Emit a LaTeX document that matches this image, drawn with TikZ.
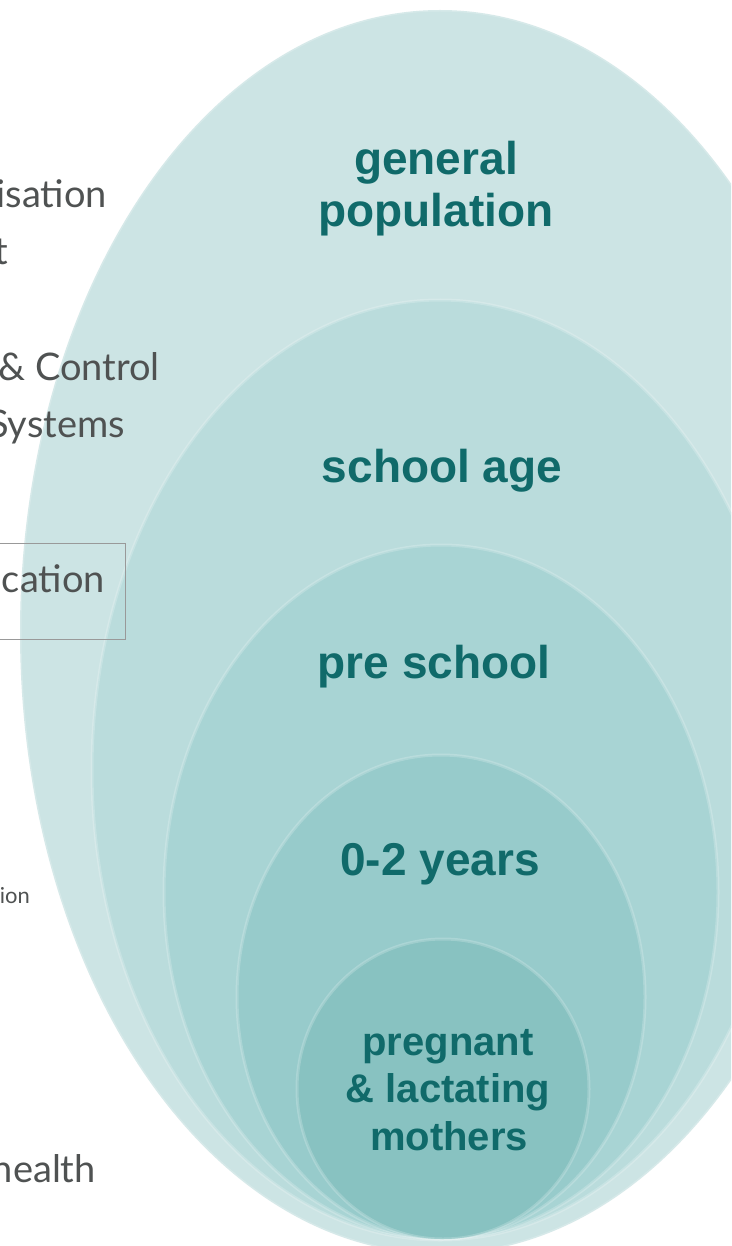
\documentclass[tikz,border=0pt]{standalone}
\usepackage{fontspec}
\setmainfont{Liberation Sans}
\newfontfamily\sidefont{Lato}
\definecolor{ringA}{HTML}{CCE4E4}
\definecolor{ringB}{HTML}{BADCDC}
\definecolor{ringC}{HTML}{A8D4D4}
\definecolor{ringD}{HTML}{97CBCB}
\definecolor{ringE}{HTML}{88C2C1}
\definecolor{teal}{HTML}{106A6A}
\definecolor{sidegray}{HTML}{4F5252}
\begin{document}
\begin{tikzpicture}[x=1pt,y=-1pt,
  ring/.style={draw=white, draw opacity=0.2, line width=3pt},
  grouplabel/.style={text=teal, font=\fontsize{46}{50}\selectfont\bfseries, align=center, anchor=base},
  smalllabel/.style={text=teal, font=\fontsize{40}{47}\selectfont\bfseries, align=center, anchor=base},
  sidetext/.style={text=sidegray, font=\sidefont\fontsize{38}{46}\selectfont, anchor=base east, inner sep=0pt},
  tinytext/.style={text=sidegray, font=\sidefont\fontsize{22}{26}\selectfont, anchor=base east, inner sep=0pt},
  boxframe/.style={draw=gray!80, line width=0.8pt}]
\useasboundingbox (0,0) rectangle (731,1246);
\clip (0,0) rectangle (731,1246);
\fill[white] (0,0) rectangle (731,1246);
% nested ellipses
\filldraw[ring, fill=ringA] (440,632) ellipse [x radius=420pt, y radius=622pt];
\filldraw[ring, fill=ringB] (440,770) ellipse [x radius=348pt, y radius=470pt];
\filldraw[ring, fill=ringC] (441,892) ellipse [x radius=277pt, y radius=347pt];
\filldraw[ring, fill=ringD] (441,997) ellipse [x radius=204pt, y radius=242pt];
\filldraw[ring, fill=ringE] (443,1089) ellipse [x radius=146pt, y radius=150pt];
% group labels
\node[grouplabel] (gen) at (436,175) {general};
\node[grouplabel] (pop) at (436,227) {population};
\node[grouplabel] (school) at (442,482) {school age};
\node[grouplabel] (pre) at (434,678) {pre school};
\node[grouplabel] (zero) at (440,875) {0-2 years};
\node[smalllabel] (preg) at (448,1055) {pregnant};
\node[smalllabel] (lact) at (448,1102) {\& lactating};
\node[smalllabel] (moth) at (449,1150) {mothers};
% left side texts (cut by the page edge, as in the source)
\node[sidetext] (s1) at (107,208) {isation};
\node[sidetext] (s2) at (8,265) {t};
\node[sidetext] (s3) at (160,380) {\& Control};
\node[sidetext] (s4) at (125,437) {Systems};
\draw[boxframe] (-5,543) rectangle (125,639);
\node[sidetext] (s5) at (105,592) {cation};
\node[tinytext] (s6) at (30,903) {ion};
\node[sidetext] (s7) at (96,1182) {health};
\end{tikzpicture}
\end{document}
